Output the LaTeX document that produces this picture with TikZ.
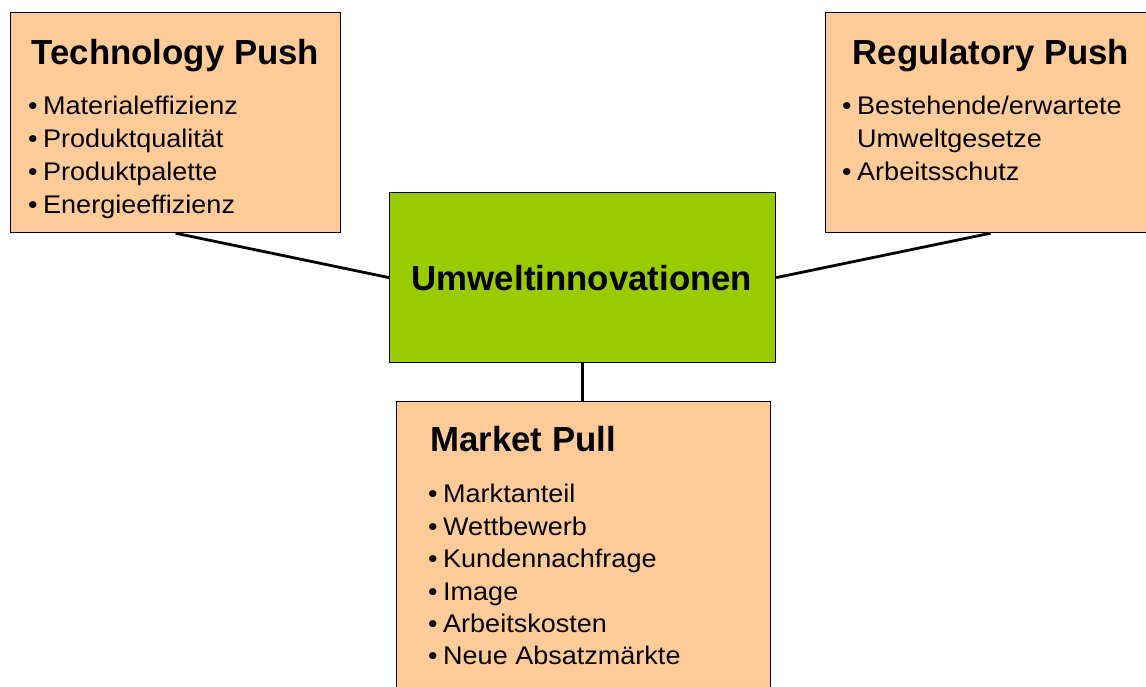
\documentclass[tikz,border=0pt]{standalone}
\usepackage{fontspec}
\setmainfont{Liberation Sans}
\newfontfamily\itmfont[FakeStretch=1.06]{Liberation Sans}
\definecolor{peach}{HTML}{FFCC99}
\definecolor{lime}{HTML}{99CC00}
\tikzset{
  obox/.style={draw=black, line width=1.2pt, fill=peach, rectangle, inner sep=0pt, anchor=north west},
  gbox/.style={draw=black, line width=1.2pt, fill=lime, rectangle, inner sep=0pt, anchor=north west},
  conn/.style={draw=black, line width=2.8pt},
  ttl/.style={inner sep=0pt, anchor=base west, font=\fontsize{34.8}{40}\selectfont\bfseries},
  itm/.style={inner sep=0pt, anchor=base west, font=\itmfont\fontsize{25.5}{30}\selectfont},
}
\newcommand{\bul}{\llap{\textbullet\hspace{5.5pt}}}
\begin{document}
\begin{tikzpicture}[x=1pt,y=-1pt]
\useasboundingbox (0,0) rectangle (1146,686);
% boxes
\node[obox, minimum width=330pt, minimum height=220pt] (tech) at (10,12) {};
\node[obox, minimum width=330pt, minimum height=220pt] (reg) at (825,12) {};
\node[gbox, minimum width=386pt, minimum height=170pt] (green) at (389,192) {};
\node[obox, minimum width=374pt, minimum height=310pt] (market) at (396,401) {};
% connectors
\draw[conn] (tech.south) -- (green.west);
\draw[conn] (reg.south) -- (green.east);
\draw[conn] (green.south) -- (green.south |- market.north);
% Technology Push
\node[ttl] (t0) at (31.5,64) {Technology Push};
\node[itm] (t1) at (43,114) {\bul Materialeffizienz};
\node[itm] (t2) at (43,147) {\bul Produktqualität};
\node[itm] (t3) at (43,180) {\bul Produktpalette};
\node[itm] (t4) at (43,213) {\bul Energieeffizienz};
% Regulatory Push
\node[ttl] (r0) at (852.5,64) {Regulatory Push};
\node[itm] (r1) at (857,114) {\bul Bestehende/erwartete};
\node[itm] (r2) at (857,147) {Umweltgesetze};
\node[itm] (r3) at (857,180) {\bul Arbeitsschutz};
% center
\node[inner sep=0pt, anchor=base, font=\fontsize{34.8}{40}\selectfont\bfseries] (c0) at (582,290) {Umweltinnovationen};
% Market Pull
\node[ttl] (m0) at (430,451.5) {Market Pull};
\node[itm] (m1) at (443,502.5) {\bul Marktanteil};
\node[itm] (m2) at (443,535) {\bul Wettbewerb};
\node[itm] (m3) at (443,567.5) {\bul Kundennachfrage};
\node[itm] (m4) at (443,600) {\bul Image};
\node[itm] (m5) at (443,632) {\bul Arbeitskosten};
\node[itm] (m6) at (443,664.5) {\bul Neue Absatzmärkte};
\end{tikzpicture}
\end{document}
